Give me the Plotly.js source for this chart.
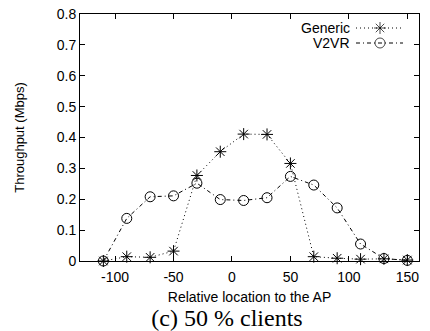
<!DOCTYPE html>
<html>
<head>
<meta charset="utf-8">
<script src="https://cdn.plot.ly/plotly-3.0.1.min.js"></script>
<style>html,body{margin:0;padding:0;background:#fff;}#chart{width:430px;height:331px;}</style>
</head>
<body>
<div id="chart"></div>
<script>
// Data
const locations = [-110, -90, -70, -50, -30, -10, 10, 30, 50, 70, 90, 110, 130, 150];
const genericThroughput = [0.0, 0.014, 0.012, 0.032, 0.277, 0.354, 0.411, 0.410, 0.316, 0.014, 0.009, 0.006, 0.007, 0.003];
const v2vrThroughput    = [0.0, 0.138, 0.208, 0.211, 0.252, 0.199, 0.196, 0.205, 0.274, 0.246, 0.172, 0.055, 0.008, 0.002];
const seriesNames = ['Generic', 'V2VR'];
const xTicks = [-100, -50, 0, 50, 100, 150];
const yTicks = [0, 0.1, 0.2, 0.3, 0.4, 0.5, 0.6, 0.7, 0.8];
const yTickLabels = ['0', '0.1', '0.2', '0.3', '0.4', '0.5', '0.6', '0.7', '0.8'];

const sans = 'Liberation Sans, Arial, Helvetica, sans-serif';
const styles = [
  {dash: '1px,3px', symbol: 'asterisk-open'},
  {dash: '4px,3px,1px,3px', symbol: 'circle-open'}
];
const seriesValues = [genericThroughput, v2vrThroughput];

const traces = seriesValues.map((vals, i) => ({
  x: locations, y: vals, type: 'scatter', mode: 'lines+markers', name: seriesNames[i],
  line: {color: '#000', width: 1, dash: styles[i].dash},
  marker: {symbol: styles[i].symbol, size: 10, color: '#000', line: {color: '#000', width: 1}},
  showlegend: false, hoverinfo: 'skip', cliponaxis: false
}));

// legend samples (gnuplot style: text then sample) on a pixel helper axis
const legendRows = [28, 43];
seriesNames.forEach((n, i) => {
  traces.push({
    x: [356, 380, 403], y: [legendRows[i], legendRows[i], legendRows[i]],
    xaxis: 'x2', yaxis: 'y2', type: 'scatter', mode: 'lines+markers',
    line: {color: '#000', width: 1, dash: styles[i].dash},
    marker: {symbol: styles[i].symbol, size: [0, 10, 0], color: '#000', line: {color: '#000', width: 1}},
    showlegend: false, hoverinfo: 'skip'
  });
});

const layout = {
  width: 430, height: 331,
  margin: {l: 80, r: 11, t: 14, b: 70},
  paper_bgcolor: '#fff', plot_bgcolor: '#fff',
  font: {family: sans, size: 14, color: '#000'},
  showlegend: false,
  title: {
    text: '(c) 50 % clients',
    font: {family: 'Liberation Serif, Times New Roman, serif', size: 24, color: '#000'},
    x: 227 / 430, xanchor: 'center', xref: 'container',
    y: 1 - 318 / 331, yanchor: 'middle', yref: 'container'
  },
  xaxis: {
    range: [-130, 160], tickvals: xTicks, ticktext: xTicks.map(String),
    ticks: 'inside', ticklen: 5, tickcolor: '#000', tickwidth: 1,
    showline: true, linecolor: '#000', linewidth: 1, mirror: 'ticks',
    showgrid: false, zeroline: false, ticklabelstandoff: 3,
    tickfont: {family: sans, size: 14, color: '#000'},
    title: {text: 'Relative location to the AP', font: {family: sans, size: 14, color: '#000'}, standoff: 8}
  },
  yaxis: {
    range: [0, 0.8], tickvals: yTicks, ticktext: yTickLabels,
    ticks: 'inside', ticklen: 5, tickcolor: '#000', tickwidth: 1,
    showline: true, linecolor: '#000', linewidth: 1, mirror: 'ticks',
    showgrid: false, zeroline: false,
    tickfont: {family: sans, size: 14, color: '#000'},
    title: {text: 'Throughput (Mbps)', font: {family: sans, size: 13, color: '#000'}, standoff: 29}
  },
  xaxis2: {range: [80, 419], overlaying: 'x', anchor: 'y2', visible: false, fixedrange: true},
  yaxis2: {range: [261, 14], overlaying: 'y', anchor: 'x2', visible: false, fixedrange: true},
  annotations: [
    {text: seriesNames[0], xref: 'x2', yref: 'y2', x: 351, y: legendRows[0], xanchor: 'right', yanchor: 'middle', showarrow: false, borderpad: 0, font: {family: sans, size: 14, color: '#000'}},
    {text: seriesNames[1], xref: 'x2', yref: 'y2', x: 351, y: legendRows[1], xanchor: 'right', yanchor: 'middle', showarrow: false, borderpad: 0, font: {family: sans, size: 14, color: '#000'}}
  ]
};

Plotly.newPlot('chart', traces, layout, {staticPlot: true, displayModeBar: false});
</script>
</body>
</html>
